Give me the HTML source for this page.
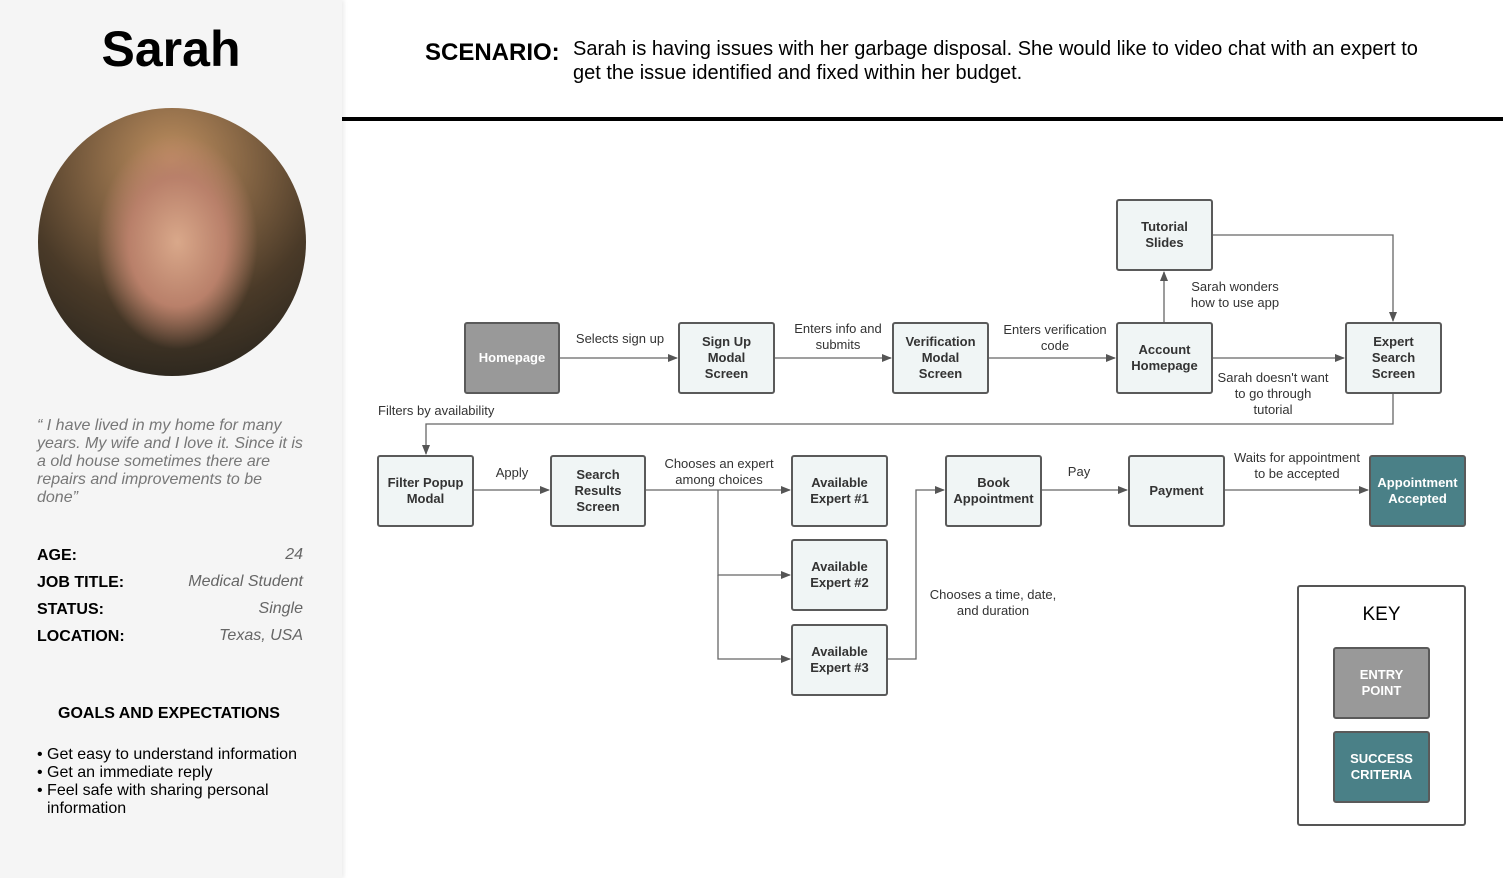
<!DOCTYPE html>
<html><head><meta charset="utf-8"><style>
body{margin:0;width:1503px;height:878px;position:relative;background:#fff;font-family:"Liberation Sans",sans-serif;overflow:hidden}
.a{position:absolute}
.left{left:0;top:0;width:342px;height:878px;background:#f5f5f5;box-shadow:2px 0 4px rgba(0,0,0,.08)}
.b{position:absolute;box-sizing:border-box;border:2px solid #5a5a5a;border-radius:3px;background:#f0f5f5;display:flex;align-items:center;justify-content:center;text-align:center;font-weight:bold;font-size:13px;line-height:16px;color:#333}
.l{position:absolute;font-size:13px;line-height:16px;color:#333;text-align:center}
.k{font-weight:bold;font-size:16px;color:#000}
.v{font-style:italic;font-size:16px;color:#666;text-align:right;width:150px}
</style></head><body>
<div class="a left"></div>
<div class="a" style="left:0;width:342px;top:20px;text-align:center;font-size:50px;font-weight:bold">Sarah</div>
<div class="a" style="left:38px;top:108px;width:268px;height:268px;border-radius:50%;background:radial-gradient(ellipse 30% 40% at 52% 50%,#d9a88a 0%,#b9806a 60%,transparent 100%),radial-gradient(circle at 50% 20%,#c09060,#4a3a28 60%,#1e1e1a 100%)"></div>
<div class="a" style="left:37px;top:417px;width:300px;font-size:16px;line-height:18px;font-style:italic;color:#777;white-space:nowrap">“ I have lived in my home for many<br>years. My wife and I love it. Since it is<br>a old house sometimes there are<br>repairs and improvements to be<br>done”</div>
<div class="a k" style="left:37px;top:547px">AGE:</div><div class="a v" style="left:153px;top:546px">24</div>
<div class="a k" style="left:37px;top:574px">JOB TITLE:</div><div class="a v" style="left:153px;top:573px">Medical Student</div>
<div class="a k" style="left:37px;top:601px">STATUS:</div><div class="a v" style="left:153px;top:600px">Single</div>
<div class="a k" style="left:37px;top:628px">LOCATION:</div><div class="a v" style="left:153px;top:627px">Texas, USA</div>
<div class="a" style="left:58px;top:705px;font-weight:bold;font-size:16px">GOALS AND EXPECTATIONS</div>
<div class="a" style="left:37px;top:746px;font-size:16px;line-height:18px;width:280px">
<div>• Get easy to understand information</div><div>• Get an immediate reply</div><div style="padding-left:10px;text-indent:-10px">• Feel safe with sharing personal information</div></div>
<div class="a" style="left:425px;top:39px;font-size:24px;font-weight:bold">SCENARIO:</div>
<div class="a" style="left:573px;top:37px;font-size:20px;line-height:24px;width:858px">Sarah is having issues with her garbage disposal. She would like to video chat with an expert to get the issue identified and fixed within her budget.</div>
<div class="a" style="left:342px;top:117px;width:1161px;height:4px;background:#000"></div>
<svg class="a" style="left:0;top:0" width="1503" height="878">
<defs><marker id="m" markerWidth="10" markerHeight="8" refX="9" refY="4" orient="auto" markerUnits="userSpaceOnUse"><path d="M0,0L10,4L0,8z" fill="#555"/></marker></defs>
<g stroke="#666" stroke-width="1.3" fill="none" marker-end="url(#m)">
<path d="M560,358H677"/><path d="M775,358H891"/><path d="M989,358H1115"/><path d="M1213,358H1344"/>
<path d="M1164,322V272"/><path d="M1213,235H1393V321"/>
<path d="M1393,394V424H426V454"/>
<path d="M474,490H549"/><path d="M646,490H790"/><path d="M718,490V575H790"/><path d="M718,575V659H790"/>
<path d="M888,659H916V490H944"/><path d="M1042,490H1127"/><path d="M1225,490H1368"/>
</g></svg>
<div class="b" style="left:464px;top:322px;width:96px;height:72px;background:#999;color:#fff">Homepage</div>
<div class="b" style="left:678px;top:322px;width:97px;height:72px">Sign Up<br>Modal<br>Screen</div>
<div class="b" style="left:892px;top:322px;width:97px;height:72px">Verification<br>Modal<br>Screen</div>
<div class="b" style="left:1116px;top:322px;width:97px;height:72px">Account<br>Homepage</div>
<div class="b" style="left:1345px;top:322px;width:97px;height:72px">Expert<br>Search<br>Screen</div>
<div class="b" style="left:1116px;top:199px;width:97px;height:72px">Tutorial<br>Slides</div>
<div class="b" style="left:377px;top:455px;width:97px;height:72px">Filter Popup<br>Modal</div>
<div class="b" style="left:550px;top:455px;width:96px;height:72px">Search<br>Results<br>Screen</div>
<div class="b" style="left:791px;top:455px;width:97px;height:72px">Available<br>Expert #1</div>
<div class="b" style="left:791px;top:539px;width:97px;height:72px">Available<br>Expert #2</div>
<div class="b" style="left:791px;top:624px;width:97px;height:72px">Available<br>Expert #3</div>
<div class="b" style="left:945px;top:455px;width:97px;height:72px">Book<br>Appointment</div>
<div class="b" style="left:1128px;top:455px;width:97px;height:72px">Payment</div>
<div class="b" style="left:1369px;top:455px;width:97px;height:72px;background:#4a8087;color:#fff">Appointment<br>Accepted</div>
<div class="l" style="left:570px;top:331px;width:100px">Selects sign up</div>
<div class="l" style="left:785px;top:321px;width:106px">Enters info and submits</div>
<div class="l" style="left:998px;top:322px;width:114px">Enters verification code</div>
<div class="l" style="left:1180px;top:279px;width:110px">Sarah wonders how to use app</div>
<div class="l" style="left:1214px;top:370px;width:118px">Sarah doesn't want to go through tutorial</div>
<div class="l" style="left:378px;top:403px;text-align:left">Filters by availability</div>
<div class="l" style="left:490px;top:465px;width:44px">Apply</div>
<div class="l" style="left:658px;top:456px;width:122px">Chooses an expert among choices</div>
<div class="l" style="left:1060px;top:464px;width:38px">Pay</div>
<div class="l" style="left:1230px;top:450px;width:134px">Waits for appointment to be accepted</div>
<div class="l" style="left:925px;top:587px;width:136px">Chooses a time, date, and duration</div>
<div class="a" style="left:1297px;top:585px;width:169px;height:241px;box-sizing:border-box;border:2px solid #555;border-radius:3px"></div>
<div class="a" style="left:1297px;top:604px;width:169px;text-align:center;font-size:19px">KEY</div>
<div class="b" style="left:1333px;top:647px;width:97px;height:72px;background:#999;color:#fff;font-weight:bold">ENTRY<br>POINT</div>
<div class="b" style="left:1333px;top:731px;width:97px;height:72px;background:#4a8087;color:#fff">SUCCESS<br>CRITERIA</div>
</body></html>
